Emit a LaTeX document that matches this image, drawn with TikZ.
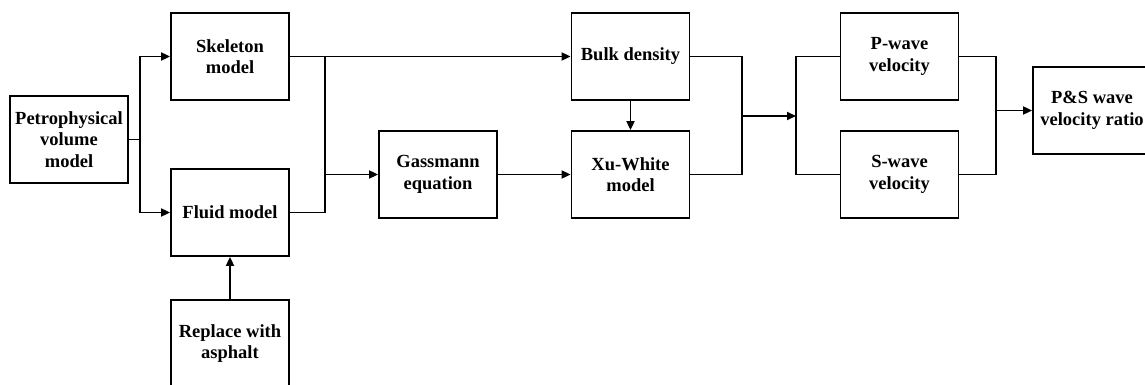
\documentclass[tikz,border=0pt]{standalone}
\usepackage{fontspec}
\setmainfont{Liberation Serif}
\usepackage{tikz}
\usetikzlibrary{arrows.meta}
\tikzset{
	block/.style={draw, line width=1.8pt, minimum width=118pt, minimum height=87pt,
		align=center, inner sep=2pt, font=\fontsize{18.5}{21.5}\selectfont\bfseries},
	link/.style={line width=1.8pt},
	flow/.style={link, -{Triangle[length=9pt,width=8pt]}},
}
\begin{document}
\begin{tikzpicture}[x=1pt,y=-1pt]
			\useasboundingbox (0,0) rectangle (1145,385);
			\node[block] (petro) at (69,139.5) {Petrophysical\\volume\\model};
			\node[block] (skel) at (230,56.5) {Skeleton\\model};
			\node[block] (fluid) at (230,212.5) {Fluid model};
			\node[block] (repl) at (230,343.5) {Replace with\\asphalt};
			\node[block] (gass) at (438,174.5) {Gassmann\\equation};
			\node[block] (bulk) at (630.5,56.5) {Bulk density};
			\node[block] (xuw) at (630.5,174.5) {Xu-White\\model};
			\node[block] (pwave) at (899.5,56.5) {P-wave\\velocity};
			\node[block] (swave) at (899.5,174.5) {S-wave\\velocity};
			\node[block] (ratio) at (1092,110.5) {P\&S wave\\velocity ratio};
			\coordinate (j1) at (140,139.5);
			\coordinate (j2) at (325,174.5);
			\coordinate (j3) at (742,116);
			\coordinate (j4) at (796,116);
			\coordinate (j5) at (996,110.5);
			\draw[link] (petro.east) -- (j1);
			\draw[flow] (j1) |- (skel.west);
			\draw[flow] (j1) |- (fluid.west);
			\draw[flow] (repl.north) -- (fluid.south);
			\draw[flow] (skel.east) -- (bulk.west);
			\draw[link] (skel.east) -| (j2);
			\draw[link] (fluid.east) -| (j2);
			\draw[flow] (j2) -- (gass.west);
			\draw[flow] (gass.east) -- (xuw.west);
			\draw[flow] (bulk.south) -- (xuw.north);
			\draw[link] (bulk.east) -| (j3);
			\draw[link] (xuw.east) -| (j3);
			\draw[flow] (j3) -- (j4);
			\draw[link] (j4) |- (pwave.west);
			\draw[link] (j4) |- (swave.west);
			\draw[link] (pwave.east) -| (j5);
			\draw[link] (swave.east) -| (j5);
			\draw[flow] (j5) -- (ratio.west);
		\end{tikzpicture}
\end{document}
